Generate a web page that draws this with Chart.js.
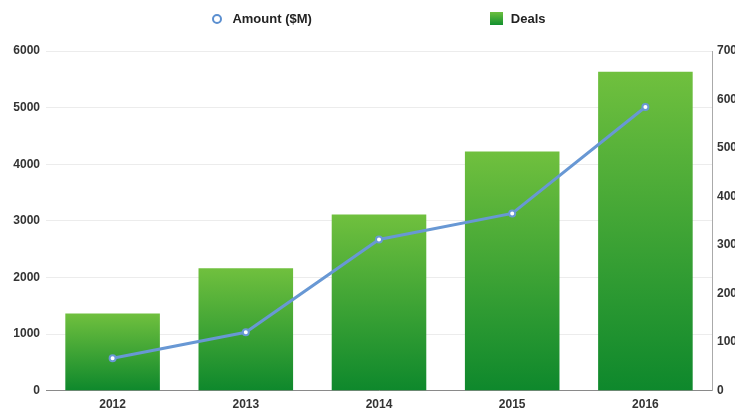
<!DOCTYPE html>
<html>
<head>
    <meta charset="utf-8">
    <title>Amount and Deals</title>
    <style>
        body { margin: 0; background: #fff; }
        #wrap { position: relative; width: 735px; height: 412px; }
        #legend {
            position: absolute; top: 11px; left: 46px; width: 666px;
            display: flex; justify-content: center; gap: 178px;
            font: bold 13px "Liberation Sans", Arial, sans-serif; color: #222;
        }
        #legend .item { display: flex; align-items: center; }
        #legend .dot {
            width: 6px; height: 6px; border: 2px solid #5b8fd0; border-radius: 50%;
            background: #fff; margin-right: 10px;
        }
        #legend .box {
            width: 13px; height: 13px; margin-right: 8px;
            background: linear-gradient(#6cbf3f, #12902e);
        }
    </style>
</head>
<body>
    <div id="wrap">
        <canvas id="myChart" width="735" height="412"></canvas>
        <div id="legend"></div>
    </div>

    <script src="https://cdn.jsdelivr.net/npm/chart.js"></script>
    <script>
        const years = ['2012', '2013', '2014', '2015', '2016'];
        const amount = [570, 1030, 2670, 3130, 5010];   // $M, left axis
        const deals = [159, 252, 363, 493, 657];        // right axis
        const leftTicks = [0, 1000, 2000, 3000, 4000, 5000, 6000];
        const rightTicks = [0, 100, 200, 300, 400, 500, 600, 700];

        const LINE_BLUE = 'rgb(104, 152, 212)';
        const GREEN_TOP = 'rgb(112, 192, 62)';
        const GREEN_BOTTOM = 'rgb(14, 136, 44)';
        const FONT = { family: '"Liberation Sans", Arial, sans-serif', size: 12, weight: 'bold' };

        const barGradient = function (ctx) {
            const chart = ctx.chart;
            const area = chart.chartArea;
            if (!area || ctx.raw === undefined) return GREEN_TOP;
            const top = chart.scales.y1.getPixelForValue(ctx.raw);
            const g = chart.ctx.createLinearGradient(0, top, 0, area.bottom);
            g.addColorStop(0, GREEN_TOP);
            g.addColorStop(1, GREEN_BOTTOM);
            return g;
        }

        const config = {
            type: 'bar',
            data: {
                labels: years,
                datasets: [
                    {
                        type: 'line',
                        label: 'Amount ($M)',
                        data: amount,
                        yAxisID: 'y',
                        borderColor: LINE_BLUE,
                        borderWidth: 3,
                        backgroundColor: '#fff',
                        pointBorderColor: LINE_BLUE,
                        pointBorderWidth: 2,
                        pointRadius: 3,
                        tension: 0,
                        order: 0
                    },
                    {
                        label: 'Deals',
                        data: deals,
                        yAxisID: 'y1',
                        backgroundColor: barGradient,
                        barPercentage: 0.71,
                        categoryPercentage: 1,
                        order: 1
                    }
                ]
            },
            options: {
                responsive: false,
                animation: false,
                layout: { padding: { top: 51, bottom: -7, left: 0, right: 0 } },
                plugins: {
                    legend: { display: false },
                    tooltip: { enabled: false }
                },
                scales: {
                    x: {
                        grid: { display: false, drawTicks: false },
                        border: { color: '#8a8a8a', width: 1 },
                        ticks: { color: '#333', font: FONT, padding: 7 }
                    },
                    y: {
                        position: 'left',
                        min: 0,
                        max: 6000,
                        afterBuildTicks: s => { s.ticks = leftTicks.map(v => ({ value: v })); },
                        afterFit: s => { s.width = 46; },
                        grid: { color: '#ececec', drawTicks: false },
                        border: { display: false },
                        ticks: { color: '#333', font: FONT, padding: 6, callback: v => String(v) }
                    },
                    y1: {
                        position: 'right',
                        min: 0,
                        max: 700,
                        afterBuildTicks: s => { s.ticks = rightTicks.map(v => ({ value: v })); },
                        afterFit: s => { s.width = 23; },
                        grid: { display: false, drawTicks: false },
                        border: { color: '#aaa', width: 1 },
                        ticks: { color: '#333', font: FONT, padding: 5, callback: v => String(v) }
                    }
                }
            }
        };

        const chart = new Chart(document.getElementById('myChart'), config);

        // html legend built from the datasets
        const legend = document.getElementById('legend');
        chart.data.datasets.forEach(ds => {
            const item = document.createElement('div');
            item.className = 'item';
            const icon = document.createElement('span');
            icon.className = ds.type === 'line' ? 'dot' : 'box';
            const text = document.createElement('span');
            text.textContent = ds.label;
            item.appendChild(icon);
            item.appendChild(text);
            legend.appendChild(item);
        });
    </script>
</body>
</html>
